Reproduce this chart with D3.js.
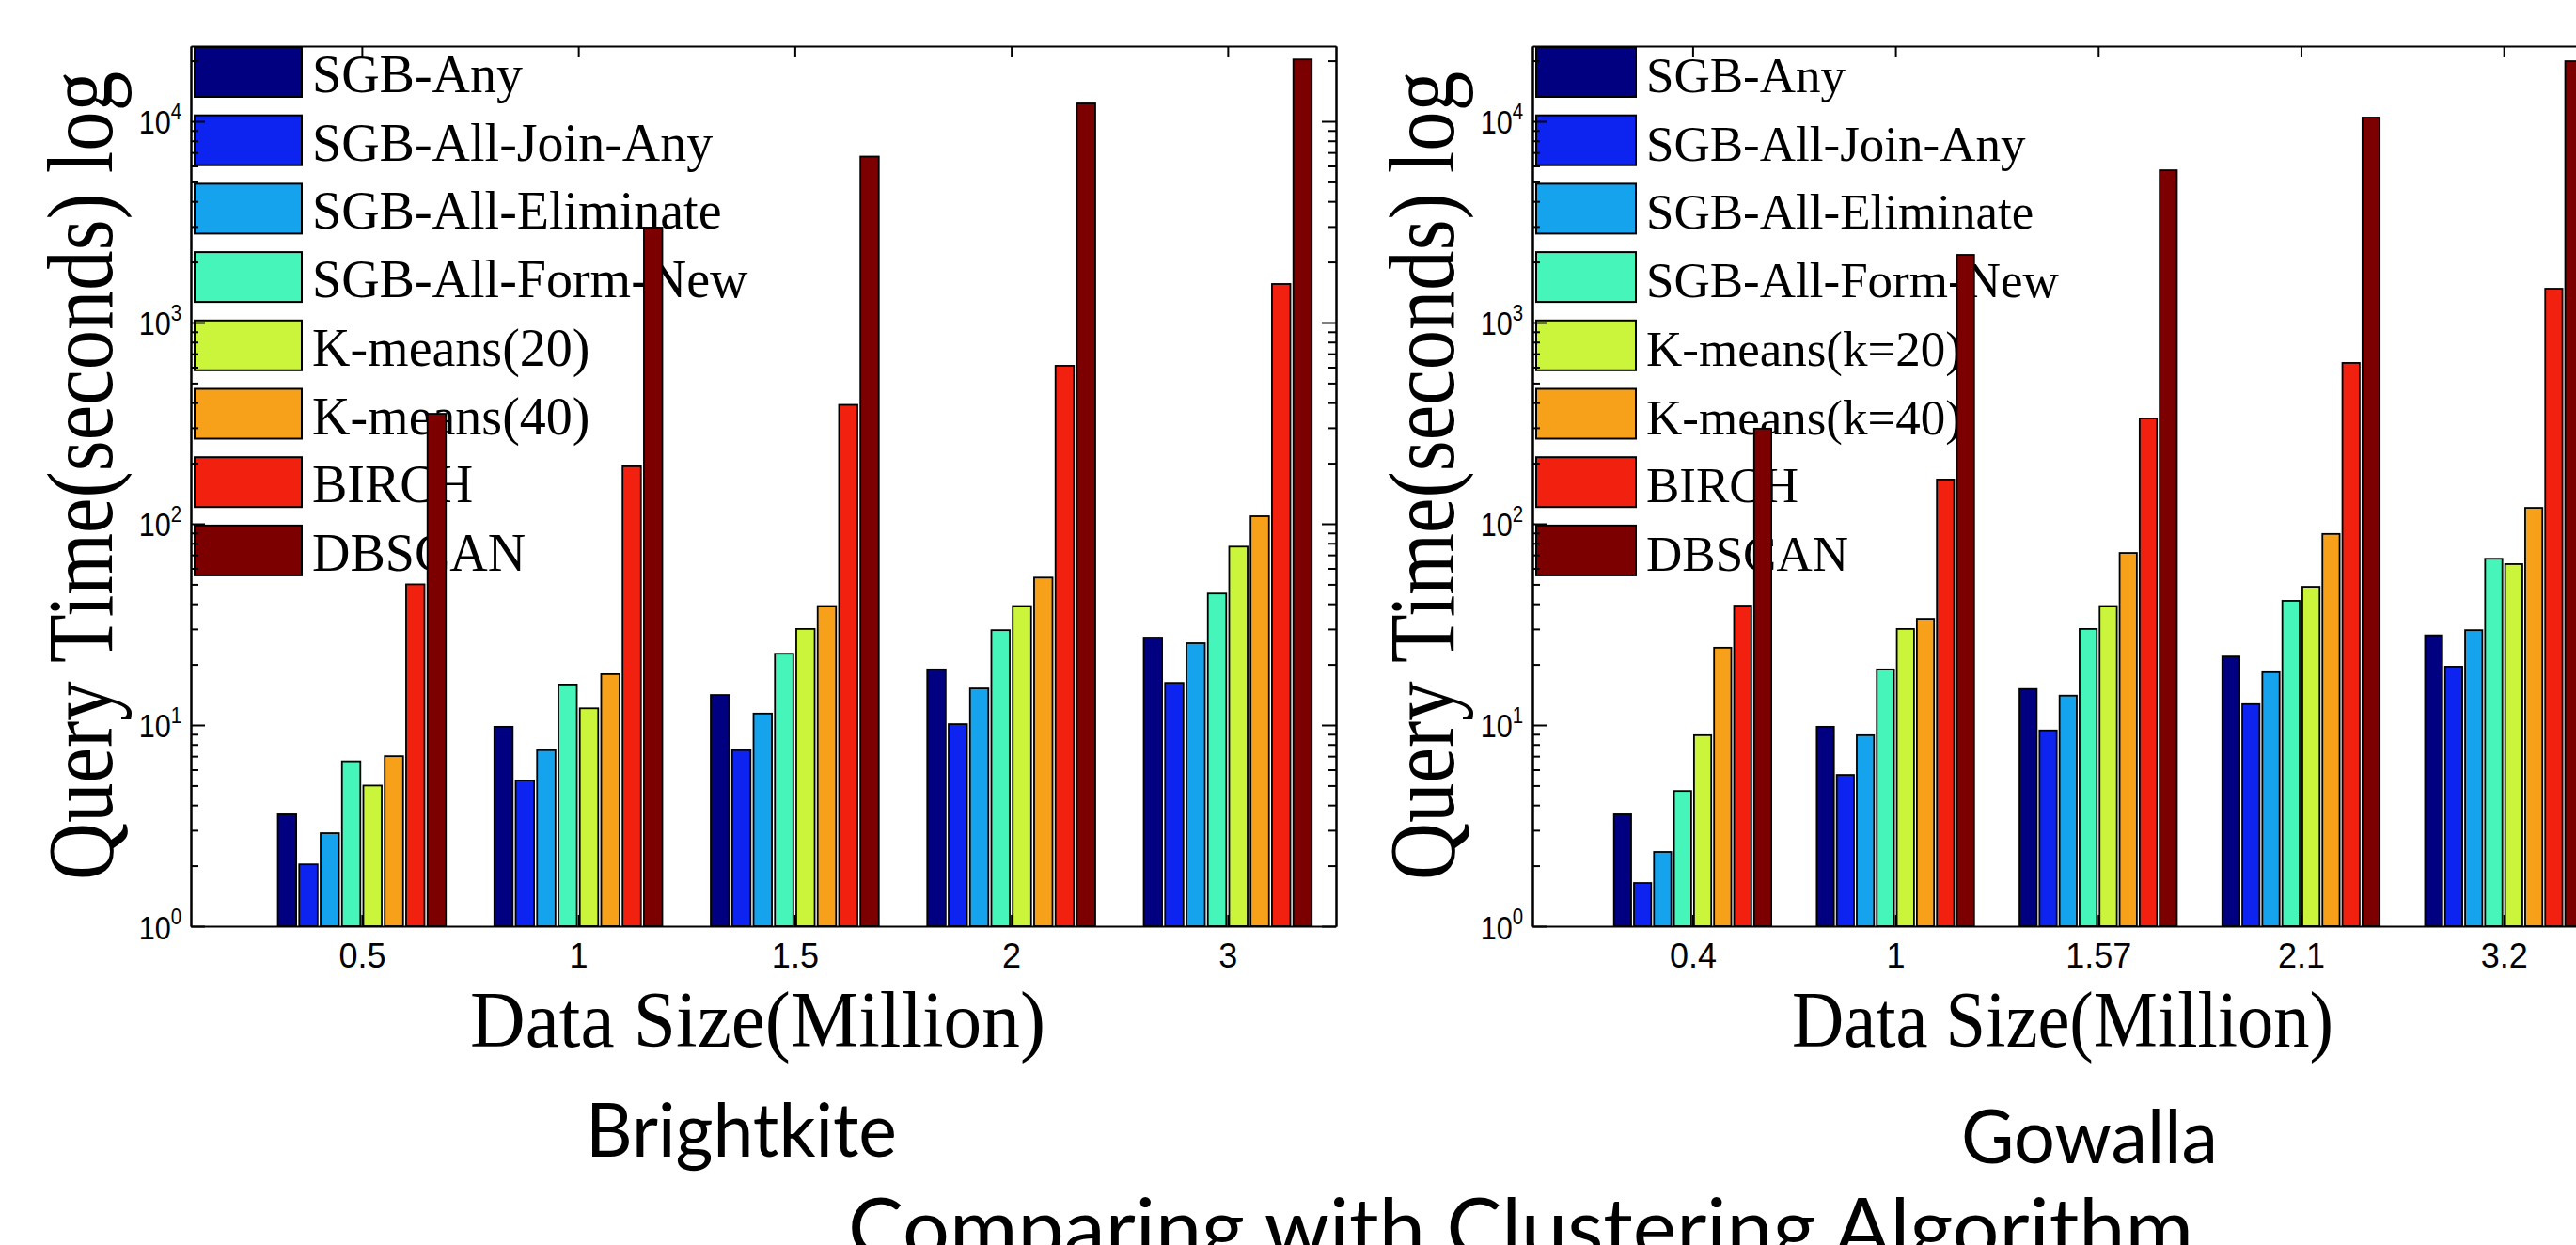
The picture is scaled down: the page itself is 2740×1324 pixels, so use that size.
<!DOCTYPE html>
<html>
<head>
<meta charset="utf-8">
<script src="https://cdn.jsdelivr.net/npm/d3@7"></script>
<style>
  body { margin: 0; background: #fff; }
  svg { display: block; background: #fff; }
</style>
</head>
<body>
<svg id="chart" width="2740" height="1324"></svg>
<script>
// Data size (million) on the x axis
const brightkiteSizes = ["0.5", "1", "1.5", "2", "3"];
const gowallaSizes = ["0.4", "1", "1.57", "2.1", "3.2"];

// legend names, one per series
const brightkiteMethods = ["SGB-Any", "SGB-All-Join-Any", "SGB-All-Eliminate", "SGB-All-Form-New",
    "K-means(20)", "K-means(40)", "BIRCH", "DBSCAN"];
const gowallaMethods = ["SGB-Any", "SGB-All-Join-Any", "SGB-All-Eliminate", "SGB-All-Form-New",
    "K-means(k=20)", "K-means(k=40)", "BIRCH", "DBSCAN"];

const methodColors = ["#000080", "#0d24f0", "#16a3ee", "#45f5b9", "#cbf53a", "#f7a11a", "#f2200f", "#7d0000"];

// query time (seconds), one row per method, one value per data size
const brightkiteTimes = [
    [3.6, 9.8, 14.1, 18.9, 27.2],
    [2.03, 5.3, 7.5, 10.1, 16.2],
    [2.9, 7.5, 11.4, 15.2, 25.5],
    [6.6, 15.9, 22.6, 29.6, 45],
    [5.0, 12.1, 30, 39, 77],
    [7.0, 17.9, 39, 54, 109],
    [50, 193, 390, 610, 1555],
    [352, 2966, 6680, 12270, 20300]
];
const gowallaTimes = [
    [3.6, 9.8, 15.1, 21.9, 27.9],
    [1.64, 5.65, 9.4, 12.7, 19.5],
    [2.34, 8.9, 14, 18.3, 29.6],
    [4.7, 18.9, 30, 41.4, 67],
    [8.9, 30, 39, 48.6, 63],
    [24.2, 33.7, 71.6, 89, 120],
    [39.2, 166, 334, 630, 1473],
    [297, 2170, 5710, 10440, 19900]
];

const yMajor = [1, 10, 100, 1000, 10000];
const yExponents = ["0", "1", "2", "3", "4"];

const svg = d3.select("#chart");

// both panels share the same log scale
const y = d3.scaleLog().domain([1, 23650]).range([985, 49]);
const yMinor = y.ticks().filter(v => !yMajor.includes(v));

const styleAxis = g => {
    g.selectAll("path, line").attr("stroke", "#000").attr("stroke-width", 2);
    g.selectAll(".tick text").attr("font-family", "Liberation Sans, Arial, sans-serif")
        .attr("font-size", 36).attr("fill", "#000");
};

// squeeze a text horizontally so it spans `width` px (rotated labels included)
const fitWidth = (sel, width) => {
    const natural = sel.node().getComputedTextLength();
    return natural > 0 ? width / natural : 1;
};

const drawPanel = (p) => {
    const g = svg.append("g");

    const x = d3.scaleLinear().domain([0.21, 5.5]).range([p.left, p.right]);
    const step = x(2) - x(1);
    const slot = d3.scaleBand()
        .domain(d3.range(p.methods.length))
        .range([-0.395 * step, 0.395 * step])
        .paddingInner(0.14)
        .paddingOuter(0.07);

    // legend first: the bars are drawn over it in the original
    const entry = g.append("g").selectAll("g")
        .data(p.methods)
        .join("g")
        .attr("transform", (d, i) => `translate(0,${50 + i * 72.7})`);
    entry.append("rect")
        .attr("x", p.left + 4)
        .attr("width", p.swatchW)
        .attr("height", 53)
        .attr("fill", (d, i) => methodColors[i])
        .attr("stroke", "#000")
        .attr("stroke-width", 2);
    entry.append("text")
        .attr("x", p.left + p.textDx)
        .attr("y", 48)
        .attr("font-family", "Liberation Serif, Times New Roman, serif")
        .attr("font-size", p.legendSize)
        .text(d => d);

    // grouped bars
    g.append("g").selectAll("g")
        .data(p.times)
        .join("g")
        .attr("fill", (d, i) => methodColors[i])
        .selectAll("rect")
        .data((row, i) => row.map((v, j) => ({ v: v, j: j, i: i })))
        .join("rect")
        .attr("x", d => x(d.j + 1) + slot(d.i))
        .attr("y", d => y(d.v))
        .attr("width", slot.bandwidth())
        .attr("height", d => y(1) - y(d.v))
        .attr("stroke", "#000")
        .attr("stroke-width", 1.8);

    const idx = d3.range(1, p.sizes.length + 1);

    // bottom / top x axes, ticks pointing inward
    g.append("g")
        .attr("transform", "translate(0,985)")
        .call(d3.axisBottom(x).tickValues(idx).tickFormat(d => p.sizes[d - 1])
            .tickSizeInner(-12).tickSizeOuter(0).tickPadding(18))
        .call(styleAxis);
    g.append("g")
        .attr("transform", "translate(0,49)")
        .call(d3.axisTop(x).tickValues(idx).tickFormat(() => "")
            .tickSizeInner(-12).tickSizeOuter(0))
        .call(styleAxis);

    // left y axis: majors with 10^k labels, then minor ticks
    const left = g.append("g")
        .attr("transform", `translate(${p.left},0)`)
        .call(d3.axisLeft(y).tickValues(yMajor).tickFormat(() => "")
            .tickSizeInner(-15).tickSizeOuter(0))
        .call(styleAxis);
    const lbl = left.selectAll(".tick").append("text")
        .attr("transform", "translate(-10,13) scale(0.85,1)")
        .attr("text-anchor", "end")
        .attr("fill", "#000")
        .attr("font-family", "Liberation Sans, Arial, sans-serif");
    lbl.append("tspan").attr("font-size", 36).text("10");
    lbl.append("tspan").attr("font-size", 24).attr("dy", -16).text((d, i) => yExponents[i]);

    g.append("g")
        .attr("transform", `translate(${p.left},0)`)
        .call(d3.axisLeft(y).tickValues(yMinor).tickFormat(() => "")
            .tickSizeInner(-8).tickSizeOuter(0))
        .call(styleAxis);

    // right box edge with mirrored ticks
    g.append("g")
        .attr("transform", `translate(${p.right},0)`)
        .call(d3.axisRight(y).tickValues(yMajor).tickFormat(() => "")
            .tickSizeInner(-15).tickSizeOuter(0))
        .call(styleAxis);
    g.append("g")
        .attr("transform", `translate(${p.right},0)`)
        .call(d3.axisRight(y).tickValues(yMinor).tickFormat(() => "")
            .tickSizeInner(-8).tickSizeOuter(0))
        .call(styleAxis);

    // y title: tall serif, squeezed along its length
    const yTitle = svg.append("text")
        .attr("text-anchor", "middle")
        .attr("font-family", "Liberation Serif, Times New Roman, serif")
        .attr("font-size", 100)
        .text("Query Time(seconds) log");
    const sy = fitWidth(yTitle, 860);
    yTitle.attr("transform", `translate(${p.left - 84},506) rotate(-90) scale(${sy},1)`);

    svg.append("text")
        .attr("x", p.xLabelX)
        .attr("y", 1113)
        .attr("text-anchor", "middle")
        .attr("font-family", "Liberation Serif, Times New Roman, serif")
        .attr("font-size", 84)
        .attr("textLength", p.xLabelW)
        .attr("lengthAdjust", "spacingAndGlyphs")
        .text("Data Size(Million)");

    svg.append("text")
        .attr("x", p.nameX)
        .attr("y", p.nameY)
        .attr("font-family", "Lato, Open Sans, sans-serif")
        .attr("font-size", 80)
        .attr("textLength", p.nameW)
        .attr("lengthAdjust", "spacingAndGlyphs")
        .text(p.name);
};

drawPanel({
    left: 203, right: 1421,
    sizes: brightkiteSizes, methods: brightkiteMethods, times: brightkiteTimes,
    swatchW: 114, textDx: 129, legendSize: 56,
    xLabelX: 806, xLabelW: 612,
    name: "Brightkite", nameX: 623, nameY: 1230, nameW: 331
});

drawPanel({
    left: 1630, right: 2771,
    sizes: gowallaSizes, methods: gowallaMethods, times: gowallaTimes,
    swatchW: 106, textDx: 121, legendSize: 53,
    xLabelX: 2194, xLabelW: 576,
    name: "Gowalla", nameX: 2086, nameY: 1237, nameW: 273
});

// slide title, cut by the bottom edge in the original
svg.append("text")
    .attr("x", 902)
    .attr("y", 1337)
    .attr("font-family", "Lato, Open Sans, sans-serif")
    .attr("font-size", 88)
    .attr("textLength", 1431)
    .attr("lengthAdjust", "spacingAndGlyphs")
    .text("Comparing with Clustering Algorithm");
</script>
</body>
</html>
